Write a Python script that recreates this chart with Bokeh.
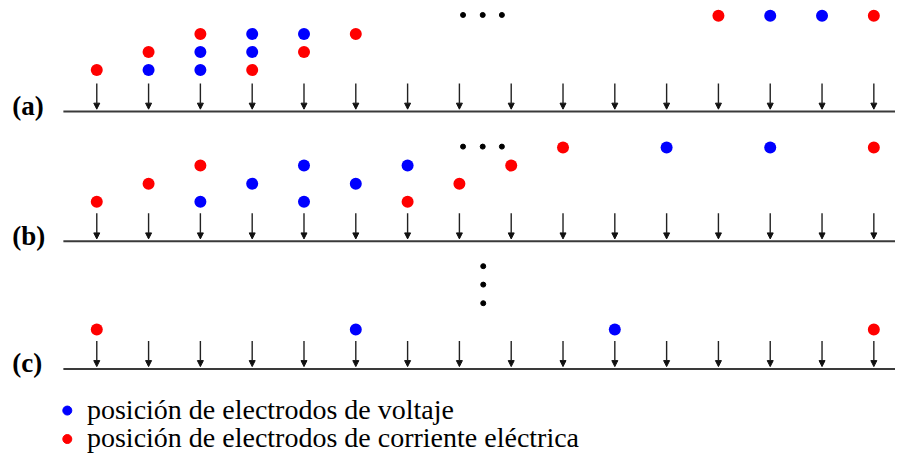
from bokeh.plotting import figure
from bokeh.models import Range1d, ColumnDataSource, Arrow, NormalHead
from bokeh.core.properties import value
from bokeh.embed import file_html
from bokeh.resources import INLINE

# ---------------- data ----------------
electrodes = list(range(1, 17))
panel_labels = ["(a)", "(b)", "(c)"]

a_current_electrode = [1, 4, 2, 5, 3, 6, 13, 16]
a_current_level = [1, 1, 2, 2, 3, 3, 4, 4]
a_voltage_electrode = [2, 3, 3, 4, 4, 5, 14, 15]
a_voltage_level = [1, 1, 2, 2, 3, 3, 4, 4]

b_current_electrode = [1, 7, 2, 8, 3, 9, 10, 16]
b_current_level = [1, 1, 2, 2, 3, 3, 4, 4]
b_voltage_electrode = [3, 5, 4, 6, 5, 7, 12, 14]
b_voltage_level = [1, 1, 2, 2, 3, 3, 4, 4]

c_current_electrode = [1, 16]
c_current_level = [1, 1]
c_voltage_electrode = [6, 11]
c_voltage_level = [1, 1]

# ellipsis marks (position between electrodes, level)
hdots_electrode = [8.07, 8.45, 8.82]
hdots_level = [4.05, 4.05, 4.05]
vdots_electrode = [8.46, 8.46, 8.46]
vdots_level = [2.45, 3.48, 4.5]

legend_labels = ["posición de electrodos de voltaje",
                 "posición de electrodos de corriente eléctrica"]

# ---------------- layout ----------------
BLUE = "#0000ff"
RED = "#ff0000"
SERIF = value("Liberation Serif")

spacing = 52.73          # reference px per electrode
x0_px = 98.0              # reference px of electrode 1
def ex(px):
    return 1 + (px - x0_px) / spacing

bases = [115.0, 249.3, 381.5]        # baseline y (reference px from top)
row_offsets = [43.0, 41.0, 41.0]     # distance baseline -> level 1
row_step = 18.7

def ly(panel, level):
    return bases[panel] - row_offsets[panel] - (level - 1) * row_step

W, H = 895, 454
p = figure(width=W, height=H, output_backend="svg", toolbar_location=None,
           x_range=Range1d(ex(0), ex(911)), y_range=Range1d(470, 0),
           x_axis_type=None, y_axis_type=None, min_border=0)
p.grid.visible = False
p.outline_line_color = None
p.background_fill_color = "white"
p.border_fill_color = "white"

# baselines, arrows and labels
for i, base in enumerate(bases):
    p.segment(x0=[ex(64)], y0=[base], x1=[ex(915)], y1=[base],
              line_color="#3a3a3a", line_width=2)
    src = ColumnDataSource(dict(x=electrodes,
                                y0=[base - 29] * len(electrodes),
                                y1=[base - 2.5] * len(electrodes)))
    p.add_layout(Arrow(end=NormalHead(size=6, fill_color="#111111",
                                      line_color="#111111", line_width=1),
                       x_start="x", y_start="y0", x_end="x", y_end="y1",
                       source=src, line_color="#222222", line_width=1.4))
    p.text(x=[ex(12)], y=[base - 6], text=[panel_labels[i]],
           text_font=SERIF, text_font_size="27px", text_font_style="bold",
           text_color="black", text_baseline="alphabetic", text_align="left")

def dots(panel, els, lvls, color):
    p.scatter(x=els, y=[ly(panel, l) for l in lvls], size=12,
              fill_color=color, line_color=color, line_width=0)

dots(0, a_current_electrode, a_current_level, RED)
dots(0, a_voltage_electrode, a_voltage_level, BLUE)
dots(1, b_current_electrode, b_current_level, RED)
dots(1, b_voltage_electrode, b_voltage_level, BLUE)
dots(2, c_current_electrode, c_current_level, RED)
dots(2, c_voltage_electrode, c_voltage_level, BLUE)

for panel in (0, 1):
    p.scatter(x=hdots_electrode, y=[ly(panel, l) for l in hdots_level],
              size=5, fill_color="black", line_color="black")
p.scatter(x=vdots_electrode, y=[ly(2, l) for l in vdots_level],
          size=5, fill_color="black", line_color="black")

# legend
legend_y = [424.5, 454.0]
legend_colors = [BLUE, RED]
p.scatter(x=[ex(68)] * 2, y=legend_y, size=9, fill_color=legend_colors,
          line_color=legend_colors)
p.text(x=[ex(88)] * 2, y=[y - 1.5 for y in legend_y], text=legend_labels,
       text_font=SERIF, text_font_size="28px", text_color="black",
       text_baseline="alphabetic", text_align="left")

open("out.html", "w").write(file_html(p, INLINE))
